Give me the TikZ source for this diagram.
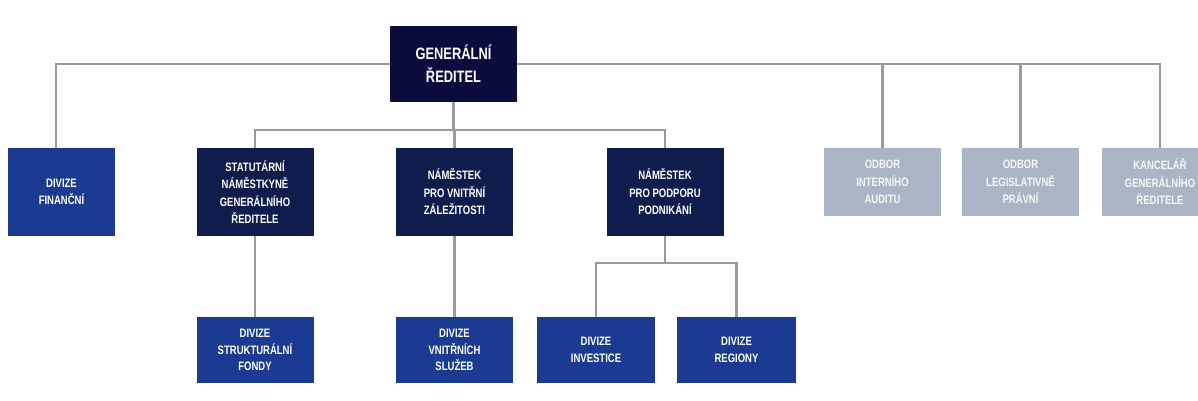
\documentclass[tikz,border=0pt]{standalone}
\usepackage{fontspec}
\newfontfamily\orgfont{Liberation Sans}[FakeStretch=0.78]
\definecolor{navytop}{HTML}{0B0B3D}
\definecolor{navy}{HTML}{0F1D4E}
\definecolor{divblue}{HTML}{1B3A92}
\definecolor{staffgray}{HTML}{A9B5C4}
\definecolor{linegray}{HTML}{9A9A9A}

\begin{document}
\begin{tikzpicture}[x=1pt,y=1pt]
		\tikzstyle{every node}+=[inner sep=0pt]
		\tikzstyle{unit}=[rectangle, align=center, text=white, minimum width=117pt, minimum height=88pt, font=\orgfont\bfseries\fontsize{12.2}{17.5}\selectfont]
		\tikzstyle{deputy}=[unit, fill=navy]
		\tikzstyle{division}=[unit, fill=divblue, minimum height=66pt, font=\orgfont\bfseries\fontsize{12.2}{16.5}\selectfont]
		\tikzstyle{staff}=[unit, fill=staffgray, text=white!90!staffgray, minimum height=68pt]
		\tikzstyle{link}=[draw=linegray, line width=2.6pt]
		\useasboundingbox (0,0) rectangle (1198,-400);
		\fill [white] (0,0) rectangle (1198,-400);
		% top
		\node [unit, fill=navytop, minimum width=127pt, minimum height=76pt, font=\orgfont\bfseries\fontsize{16.5}{23}\selectfont] (gen) at (453.5,-64) {GENERÁLNÍ\\ŘEDITEL};
		% second row
		\node [division, minimum width=107pt, minimum height=88pt] (fin) at (61.5,-192) {DIVIZE\\FINANČNÍ};
		\node [deputy] (stat) at (255,-192) {STATUTÁRNÍ\\NÁMĚSTKYNĚ\\GENERÁLNÍHO\\ŘEDITELE};
		\node [deputy] (vnitr) at (454.5,-192) {NÁMĚSTEK\\PRO VNITŘNÍ\\ZÁLEŽITOSTI};
		\node [deputy] (podp) at (665,-192) {NÁMĚSTEK\\PRO PODPORU\\PODNIKÁNÍ};
		\node [staff] (audit) at (882.5,-182) {ODBOR\\INTERNÍHO\\AUDITU};
		\node [staff] (legis) at (1020.5,-182) {ODBOR\\LEGISLATIVNĚ\\PRÁVNÍ};
		\node [staff] (kanc) at (1160,-182) {KANCELÁŘ\\GENERÁLNÍHO\\ŘEDITELE};
		% bottom row
		\node [division] (struk) at (255,-350) {DIVIZE\\STRUKTURÁLNÍ\\FONDY};
		\node [division] (sluz) at (454.5,-350) {DIVIZE\\VNITŘNÍCH\\SLUŽEB};
		\node [division, minimum width=118pt] (inv) at (596,-350) {DIVIZE\\INVESTICE};
		\node [division, minimum width=119pt] (reg) at (736.5,-350) {DIVIZE\\REGIONY};
		\coordinate (bus) at (453.5,-130);
		\coordinate (fork) at (665,-263);
		% connectors
		\draw [link] ([xshift=-5.5pt]fin.north) |- (gen.west);
		\draw [link] (gen.east) -| (kanc.north);
		\draw [link] (gen.east) -| (audit.north);
		\draw [link] (gen.east) -| (legis.north);
		\draw [link] (gen.south) -- (bus);
		\draw [link] (bus) -| (stat.north);
		\draw [link] (bus) -| (podp.north);
		\draw [link] (bus) -| (vnitr.north);
		\draw [link] (stat.south) -- (struk.north);
		\draw [link] (vnitr.south) -- (sluz.north);
		\draw [link] (podp.south) -- (fork);
		\draw [link] (fork) -| (inv.north);
		\draw [link] (fork) -| (reg.north);
	\end{tikzpicture}
\end{document}
